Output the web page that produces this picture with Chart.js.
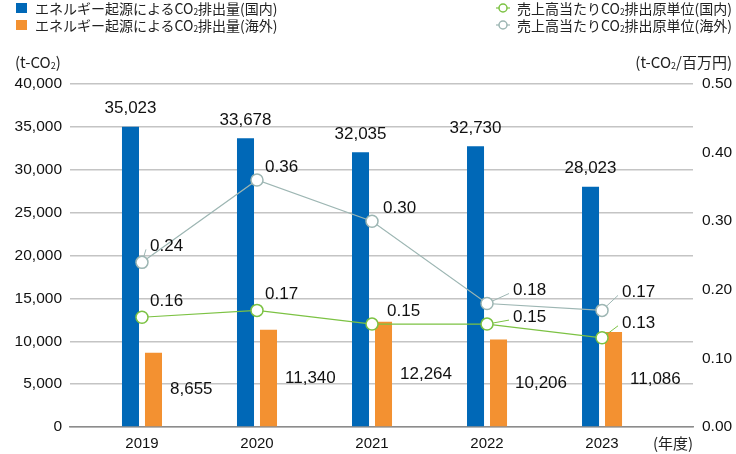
<!DOCTYPE html>
<html lang="ja">
<head>
<meta charset="utf-8">
<title>CO2排出量</title>
<script src="https://cdn.jsdelivr.net/npm/chart.js@4.4.1/dist/chart.umd.min.js"></script>
<style>
  body { margin: 0; background: #fff; }
  #wrap { position: relative; width: 736px; height: 454px; }
  #co2Chart { position: absolute; left: 0; top: 0; }
  .lg, .unit { position: absolute; font-family: "Noto Sans CJK JP", sans-serif; color: #222; white-space: nowrap; line-height: 1; }
  .lg { font-size: 14px; }
  .unit { font-size: 15px; }
  .sq { position: absolute; width: 11px; height: 10px; }
  sub { font-size: 0.6em; vertical-align: -0.15em; }
</style>
</head>
<body>
<div id="wrap">
  <canvas id="co2Chart" width="736" height="454"></canvas>
</div>
<script>
const years = ['2019', '2020', '2021', '2022', '2023'];
const emissionsDomestic = [35023, 33678, 32035, 32730, 28023];
const emissionsOverseas = [8655, 11340, 12264, 10206, 11086];
const intensityDomestic = [0.16, 0.17, 0.15, 0.15, 0.13];
const intensityOverseas = [0.24, 0.36, 0.30, 0.18, 0.17];
const yearUnitLabel = '(年度)';

const BLUE = '#0068b7';
const ORANGE = '#f39131';
const GREEN = '#7cc243';
const GREY = '#9db6b3';

// label placement for the intensity points: [dx, dy, leader line]
const offsDomestic = [[8, -16, false], [8, -16, false], [15, -13, false], [26, -7, true], [20, -15, true]];
const offsOverseas = [[8, -16, true], [8, -13, false], [11, -13, false], [26, -13, true], [20, -18, true]];

function xy(values) {
    return values.map((v, i) => ({ x: i, y: v }));
}

// legend and unit captions
const wrap = document.getElementById('wrap');
function addDiv(cls, css, html) {
    const d = document.createElement('div');
    d.className = cls;
    d.style.cssText = css;
    d.innerHTML = html;
    wrap.appendChild(d);
}
addDiv('sq', 'left:16px;top:3px;background:' + BLUE, '');
addDiv('sq', 'left:16px;top:20px;background:' + ORANGE, '');
addDiv('lg', 'left:35px;top:1px', 'エネルギー起源によるCO<sub>2</sub>排出量(国内)');
addDiv('lg', 'left:35px;top:18px', 'エネルギー起源によるCO<sub>2</sub>排出量(海外)');
addDiv('lg', 'left:517px;top:1px', '売上高当たりCO<sub>2</sub>排出原単位(国内)');
addDiv('lg', 'left:517px;top:18px', '売上高当たりCO<sub>2</sub>排出原単位(海外)');
addDiv('unit', 'left:15px;top:54px', '(t-CO<sub>2</sub>)');
addDiv('unit', 'right:4px;top:54px', '(t-CO<sub>2</sub>/百万円)');
addDiv('unit', 'left:653px;top:435px', yearUnitLabel);

function legendMarker(top, color) {
    const c = document.createElement('canvas');
    c.width = 14; c.height = 12;
    c.style.cssText = 'position:absolute;left:496px;top:' + top + 'px';
    const g = c.getContext('2d');
    g.strokeStyle = color;
    g.lineWidth = 1.2;
    g.beginPath(); g.moveTo(0, 6); g.lineTo(14, 6); g.stroke();
    g.fillStyle = '#fff';
    g.lineWidth = 1.5;
    g.beginPath(); g.arc(7, 6, 4, 0, Math.PI * 2); g.fill(); g.stroke();
    wrap.appendChild(c);
}
legendMarker(2, GREEN);
legendMarker(19, GREY);

const valueLabels = {
    id: 'valueLabels',
    afterDatasetsDraw(chart) {
        const c = chart.ctx;
        c.save();
        c.font = '17px "Liberation Sans", Arial, sans-serif';
        c.fillStyle = '#111';
        c.textBaseline = 'middle';

        // domestic bars: value above
        c.textAlign = 'center';
        chart.getDatasetMeta(0).data.forEach((bar, i) => {
            c.fillText(emissionsDomestic[i].toLocaleString('en-US'), bar.x, bar.y - 18);
        });

        // overseas bars: value to the right, mid height
        c.textAlign = 'left';
        chart.getDatasetMeta(1).data.forEach((bar, i) => {
            c.fillText(emissionsOverseas[i].toLocaleString('en-US'), bar.x + bar.width / 2 + 8, (bar.y + bar.base) / 2);
        });

        [[2, intensityDomestic, offsDomestic, GREEN], [3, intensityOverseas, offsOverseas, GREY]].forEach(([idx, vals, offs, col]) => {
            chart.getDatasetMeta(idx).data.forEach((pt, i) => {
                const [dx, dy, leader] = offs[i];
                const lx = pt.x + dx, ly = pt.y + dy;
                if (leader) {
                    const ex = lx - 4, ey = ly + 3;
                    const ang = Math.atan2(ey - pt.y, ex - pt.x);
                    c.strokeStyle = col;
                    c.lineWidth = 1;
                    c.beginPath();
                    c.moveTo(pt.x + Math.cos(ang) * 6, pt.y + Math.sin(ang) * 6);
                    c.lineTo(ex, ey);
                    c.stroke();
                }
                c.fillText(vals[i].toFixed(2), lx, ly);
            });
        });
        c.restore();
    }
};

new Chart(document.getElementById('co2Chart'), {
    type: 'bar',
    data: {
        datasets: [
            {
                label: 'エネルギー起源によるCO₂排出量(国内)',
                data: xy(emissionsDomestic),
                backgroundColor: BLUE,
                yAxisID: 'y',
                categoryPercentage: 0.4,
                barPercentage: 0.74,
                order: 2
            },
            {
                label: 'エネルギー起源によるCO₂排出量(海外)',
                data: xy(emissionsOverseas),
                backgroundColor: ORANGE,
                yAxisID: 'y',
                categoryPercentage: 0.4,
                barPercentage: 0.74,
                order: 2
            },
            {
                type: 'line',
                label: '売上高当たりCO₂排出原単位(国内)',
                data: xy(intensityDomestic),
                borderColor: GREEN,
                borderWidth: 1.2,
                pointBackgroundColor: '#fff',
                pointBorderColor: GREEN,
                pointBorderWidth: 1.5,
                pointRadius: 6,
                yAxisID: 'y1',
                order: 0
            },
            {
                type: 'line',
                label: '売上高当たりCO₂排出原単位(海外)',
                data: xy(intensityOverseas),
                borderColor: GREY,
                borderWidth: 1.2,
                pointBackgroundColor: '#fff',
                pointBorderColor: GREY,
                pointBorderWidth: 1.5,
                pointRadius: 6,
                yAxisID: 'y1',
                order: 1
            }
        ]
    },
    options: {
        responsive: false,
        animation: false,
        layout: { padding: { top: 84, left: 0, right: 0, bottom: 0 } },
        plugins: {
            legend: { display: false },
            tooltip: { enabled: false }
        },
        scales: {
            x: {
                type: 'linear',
                offset: false,
                min: -0.626,
                max: 4.791,
                afterBuildTicks: (scale) => {
                    scale.ticks = years.map((y, i) => ({ value: i }));
                },
                afterFit: (scale) => { scale.height = 27; },
                grid: { display: false, drawTicks: false },
                border: { display: true, color: '#8c8c8c', width: 1.5 },
                ticks: {
                    autoSkip: false,
                    maxRotation: 0,
                    padding: 8,
                    color: '#111',
                    font: { family: '"Liberation Sans", Arial, sans-serif', size: 15 },
                    callback: (v, i) => years[i]
                }
            },
            y: {
                position: 'left',
                min: 0,
                max: 40000,
                afterFit: (scale) => { scale.width = 70; },
                ticks: {
                    stepSize: 5000,
                    padding: 8,
                    color: '#111',
                    font: { family: '"Liberation Sans", Arial, sans-serif', size: 15.5 },
                    callback: (v) => v.toLocaleString('en-US')
                },
                grid: { color: '#c4c4c4', lineWidth: 1.5, drawTicks: false },
                border: { display: false }
            },
            y1: {
                position: 'right',
                min: 0,
                max: 0.5,
                afterFit: (scale) => { scale.width = 43; },
                ticks: {
                    stepSize: 0.1,
                    padding: 9,
                    color: '#111',
                    font: { family: '"Liberation Sans", Arial, sans-serif', size: 15.5 },
                    callback: (v) => v.toFixed(2)
                },
                grid: { display: false, drawTicks: false },
                border: { display: false }
            }
        }
    },
    plugins: [valueLabels]
});
</script>
</body>
</html>
